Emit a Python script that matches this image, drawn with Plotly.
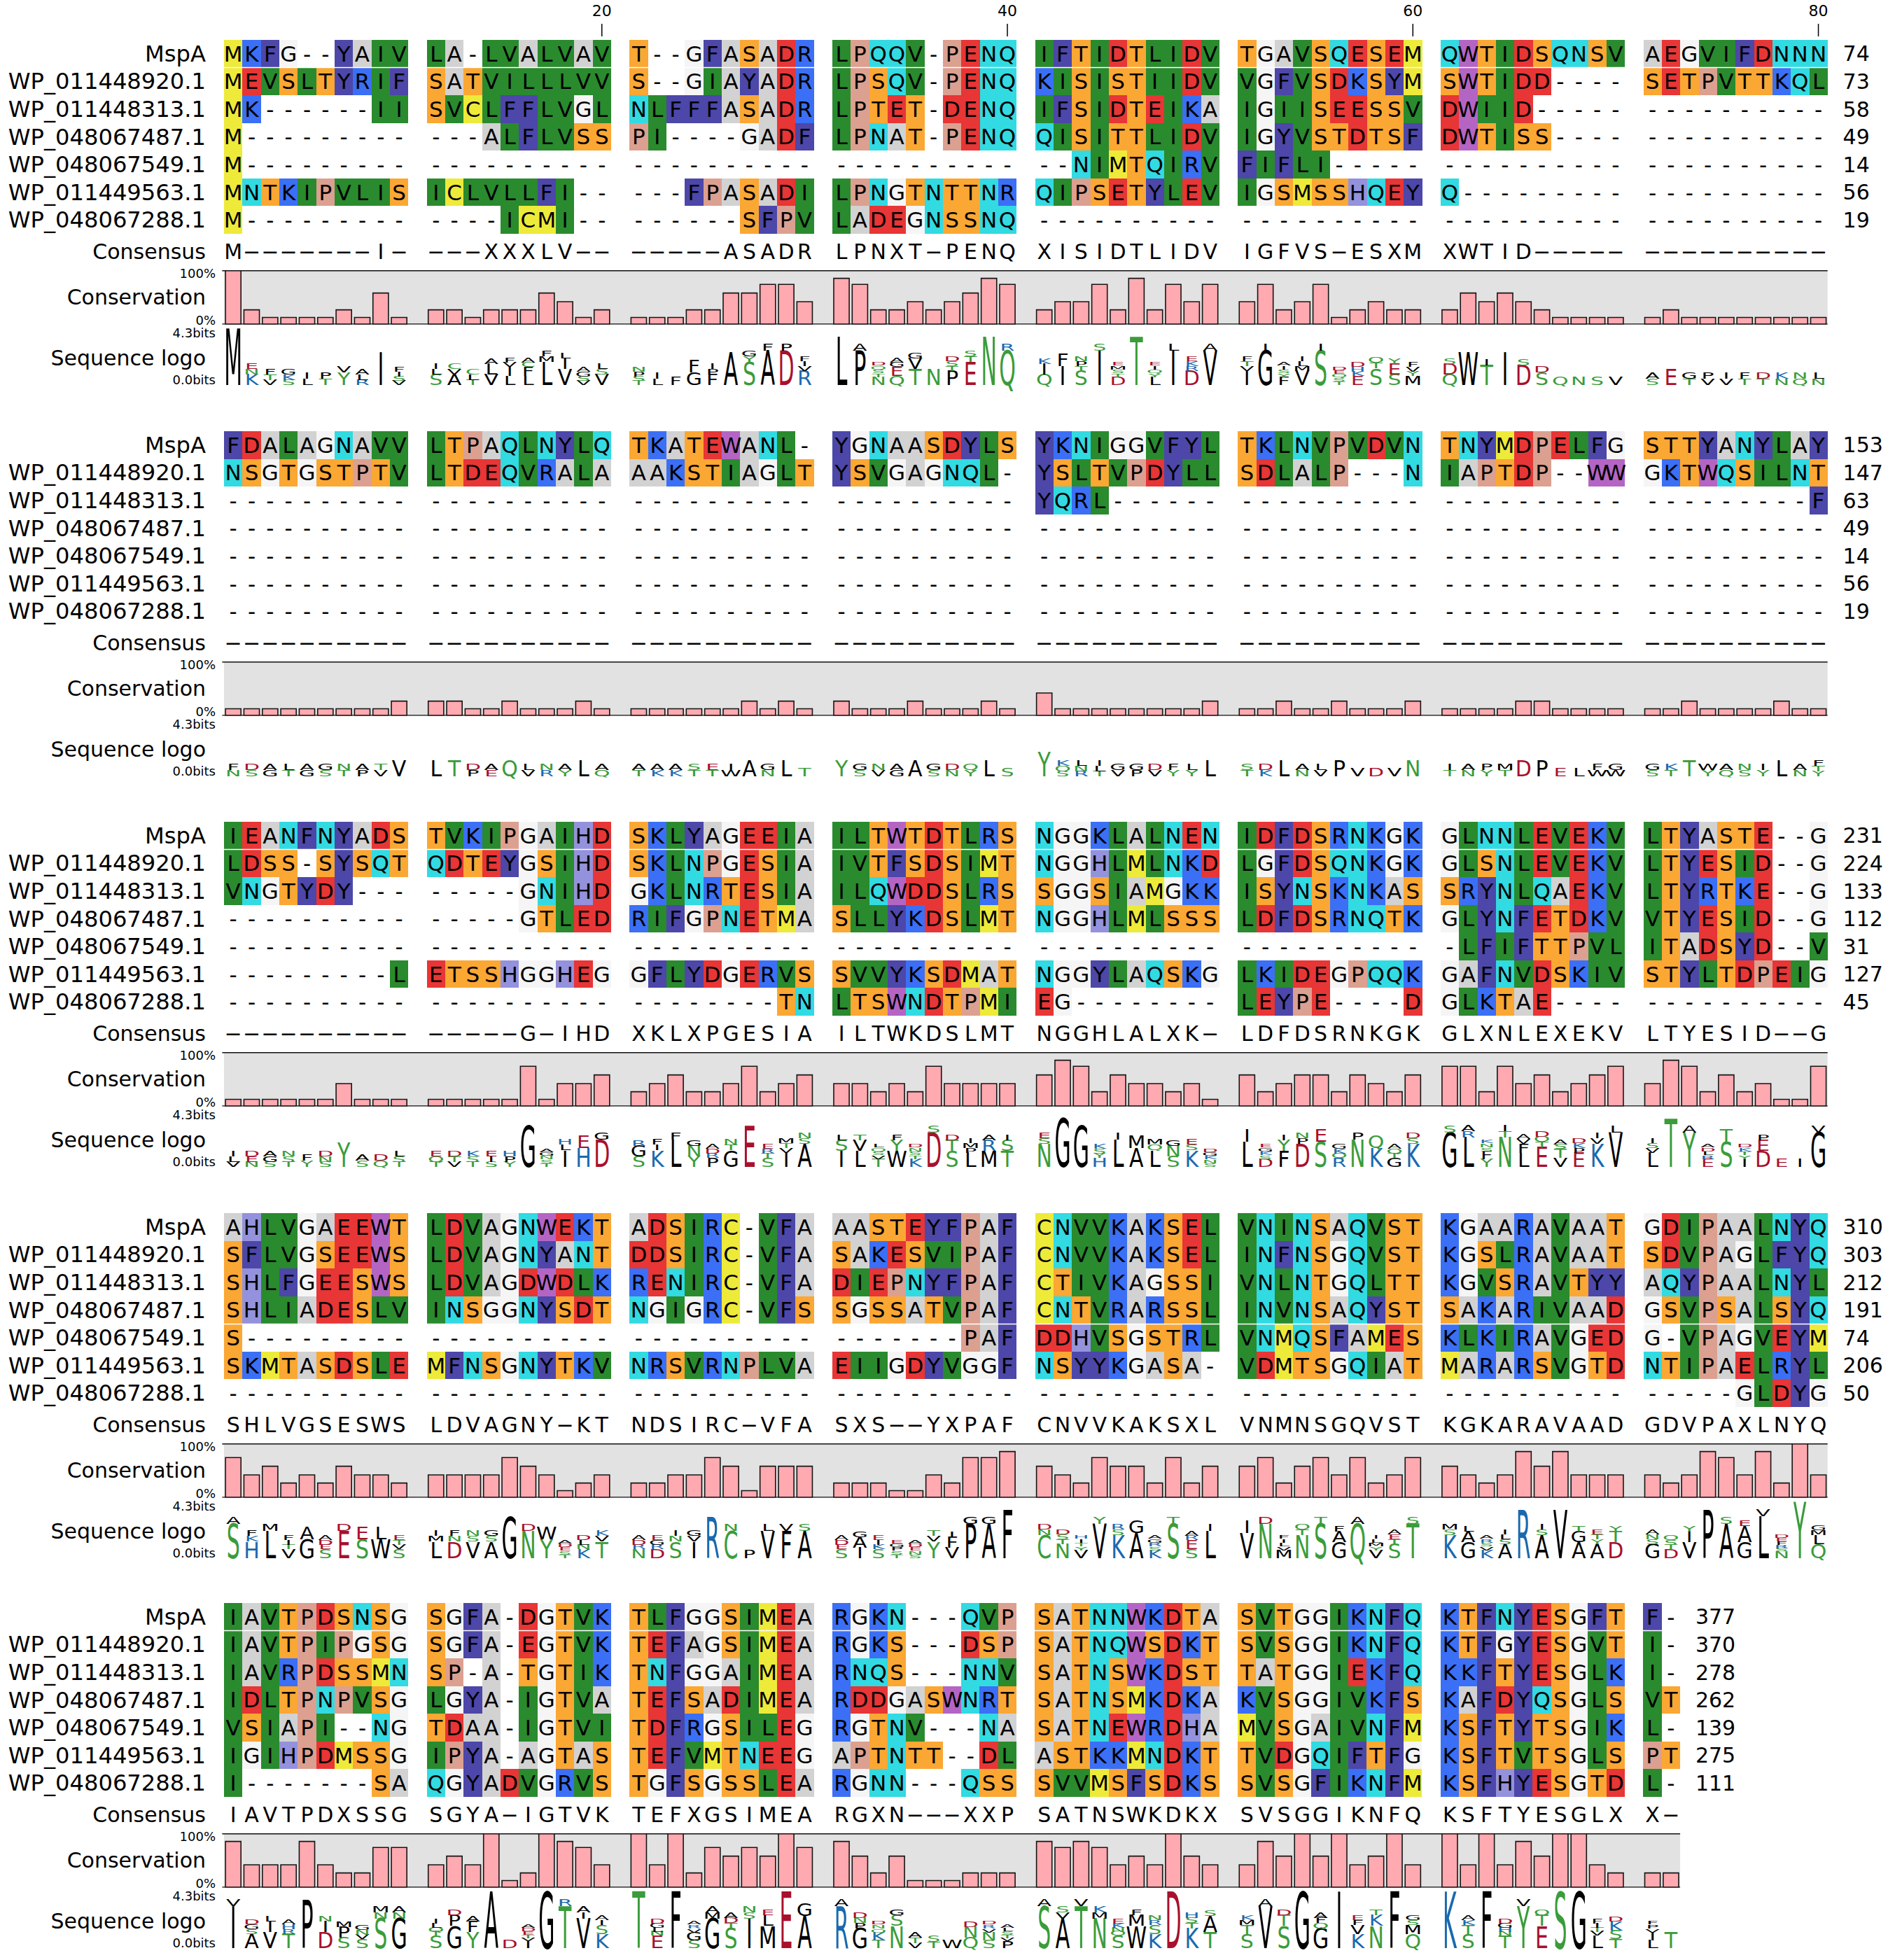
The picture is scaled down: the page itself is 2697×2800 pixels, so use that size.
'''
multiple sequence alignment figure, five wrapped blocks with consensus,
conservation bars and sequence logo
'''
import math
from collections import Counter
import plotly.graph_objects as go

names = ['MspA', 'WP_011448920.1', 'WP_011448313.1', 'WP_048067487.1',
         'WP_048067549.1', 'WP_011449563.1', 'WP_048067288.1']

#one string per sequence, a space is the spacer column between groups of ten
block1 = [
    'MKFG--YAIV LA-LVALVAV T--GFASADR LPQQV-PENQ IFTIDTLIDV TGAVSQESEM QWTIDSQNSV AEGVIFDNNN',
    'MEVSLTYRIF SATVILLLVV S--GIAYADR LPSQV-PENQ KISISTIIDV VGFVSDKSYM SWTIDD---- SETPVTTKQL',
    'MK------II SVCLFFLVGL NLFFFASADR LPTET-DENQ IFSIDTEIKA IGIISEESSV DWIID----- ----------',
    'M--------- ---ALFLVSS PI----GADF LPNAT-PENQ QISITTLIDV IGYVSTDTSF DWTISS---- ----------',
    'M--------- ---------- ---------- ---------- --NIMTQIRV FIFLI----- ---------- ----------',
    'MNTKIPVLIS ICLVLLFI-- ---FPASADI LPNGTNTTNR QIPSETYLEV IGSMSSHQEY Q--------- ----------',
    'M--------- ----ICMI-- ------SFPV LADEGNSSNQ ---------- ---------- ---------- ----------',
]
block2 = [
    'FDALAGNAVV LTPAQLNYLQ TKATEWANL- YGNAASDYLS YKNIGGVFYL TKLNVPVDVN TNYMDPELFG STTYANYLAY',
    'NSGTGSTPTV LTDEQVRALA AAKSTIAGLT YSVGAGNQL- YSLTVPDYLL SDLALP---N IAPTDP--WW GKTWQSILNT',
    '---------- ---------- ---------- ---------- YQRL------ ---------- ---------- ---------F',
    '---------- ---------- ---------- ---------- ---------- ---------- ---------- ----------',
    '---------- ---------- ---------- ---------- ---------- ---------- ---------- ----------',
    '---------- ---------- ---------- ---------- ---------- ---------- ---------- ----------',
    '---------- ---------- ---------- ---------- ---------- ---------- ---------- ----------',
]
block3 = [
    'IEANFNYADS TVKIPGAIHD SKLYAGEEIA ILTWTDTLRS NGGKLALNEN IDFDSRNKGK GLNNLEVEKV LTYASTE--G',
    'LDSS-SYSQT QDTEYGSIHD SKLNPGESIA IVTFSDSIMT NGGHLMLNKD LGFDSQNKGK GLSNLEVEKV LTYESID--G',
    'VNGTYDY--- -----GNIHD GKLNRTESIA ILQWDDSLRS SGGSIAMGKK ISYNSKNKAS SRYNLQAEKV LTYRTKE--G',
    '---------- -----GTLED RIFGPNETMA SLLYKDSLMT NGGHLMLSSS LDFDSRNQTK GLYNFETDKV VTYESID--G',
    '---------- ---------- ---------- ---------- ---------- ---------- -LFIFTTPVL ITADSYD--V',
    '---------L ETSSHGGHEG GFLYDGERVS SVVYKSDMAT NGGYLAQSKG LKIDEGPQQK GAFNVDSKIV STYLTDPEIG',
    '---------- ---------- --------TN LTSWNDTPMI EG-------- LEYPE----D GLKTAE---- ----------',
]
block4 = [
    'AHLVGAEEWT LDVAGNWEKT ADSIRC-VFA AASTEYFPAF CNVVKAKSEL VNINSAQVST KGAARAVAAT GDIPAALNYQ',
    'SFLVGSEEWS LDVAGNYANT DDSIRC-VFA SAKESVIPAF CNVVKAKSEL INFNSGQVST KGSLRAVAAT SDVPAGLFYQ',
    'SHLFGEESWS LDVAGDWDLK RENIRC-VFA DIEPNYFPAF CTIVKAGSSI VNLNTGQLTT KGVSRAVTYY AQYPAALNYL',
    'SHLIADESLV INSGGNYSDT NGIGRC-VFS SGSSATVPAF CNTVRARSSL INVNSAQYST SAKARIVAAD GSVPSALSYQ',
    'S--------- ---------- ---------- -------PAF DDHVSGSTRL VNMQSFAMES KLKIRAVGED G-VPAGVEYM',
    'SKMTASDSLE MFNSGNYTKV NRSVRNPLVA EIIGDYVGGF NSYYKGASA- VDMTSGQIAT MARARSVGTD NTIPAELRYL',
    '---------- ---------- ---------- ---------- ---------- ---------- ---------- -----GLDYG',
]
block5 = [
    'IAVTPDSNSG SGFA-DGTVK TLFGGSIMEA RGKN---QVP SATNNWKDTA SVTGGIKNFQ KTFNYESGFT F-',
    'IAVTPIPGSG SGFA-EGTVK TEFAGSIMEA RGKS---DSP SATNQWSDKT SVSGGIKNFQ KTFGYESGVT I-',
    'IAVRPDSSMN SP-A-TGTIK TNFGGAIMEA RNQS---NNV SATNSWKDST TATGGIEKFQ KKFTYESGLK I-',
    'IDLTPNPVSG LGYA-IGTVA TEFSADIMEA RDDGASWNRT SATNSMKDKA KVSGGIVKFS KAFDYQSGLS VT',
    'VSIAPI--NG TDAA-IGTVI TDFRGSILEG RGTNV---NA SATNEWRDHA MVSGAIVNFM KSFTYTSGIK L-',
    'IGIHPDMSSG IPYA-AGTAS TEFVMTNEEG APTNTT--DL ASTKKMNDKT TVDGQIFTFG KSFTVTSGLS PT',
    'I-------SA QGYADVGRVS TGFSGSSLEA RGNN---QSS SVVMSFSDKS SVSGFIKNFM KSFHYESGTD L-',
]
blocks = [block1, block2, block3, block4, block5]

consensus = [
    'M-------I- ---XXXLV-- -----ASADR LPNXT-PENQ XISIDTLIDV IGFVS-ESXM XWTID----- ----------',
    '---------- ---------- ---------- ---------- ---------- ---------- ---------- ----------',
    '---------- -----G-IHD XKLXPGESIA ILTWKDSLMT NGGHLALXK- LDFDSRNKGK GLXNLEXEKV LTYESID--G',
    'SHLVGSESWS LDVAGNY-KT NDSIRC-VFA SXS--YXPAF CNVVKAKSXL VNMNSGQVST KGKARAVAAD GDVPAXLNYQ',
    'IAVTPDXSSG SGYA-IGTVK TEFXGSIMEA RGXN---XXP SATNSWKDKX SVSGGIKNFQ KSFTYESGLX X-',
]

#residue counts printed at the end of each row
end_counts = [
    [74, 73, 58, 49, 14, 56, 19],
    [153, 147, 63, 49, 14, 56, 19],
    [231, 224, 133, 112, 31, 127, 45],
    [310, 303, 212, 191, 74, 206, 50],
    [377, 370, 278, 262, 139, 275, 111],
]

#conservation in percent
conservation1 = [100, 27, 13, 13, 13, 13, 27, 13, 58, 13,
                 27, 27, 13, 27, 27, 27, 58, 42, 13, 27,
                 13, 13, 13, 27, 27, 58, 58, 74, 74, 42,
                 85, 74, 27, 27, 42, 27, 42, 58, 85, 74,
                 27, 42, 42, 74, 27, 85, 27, 74, 42, 74,
                 42, 74, 27, 42, 74, 13, 27, 42, 27, 27,
                 27, 58, 42, 58, 42, 27, 13, 13, 13, 13,
                 13, 27, 13, 13, 13, 13, 13, 13, 13, 13]
conservation2 = [13, 13, 13, 13, 13, 13, 13, 13, 13, 27,
                 27, 27, 13, 13, 27, 13, 13, 13, 27, 13,
                 13, 13, 13, 13, 13, 13, 27, 13, 27, 13,
                 27, 13, 13, 13, 27, 13, 13, 13, 27, 13,
                 42, 13, 13, 13, 13, 13, 13, 13, 13, 27,
                 13, 13, 27, 13, 13, 27, 13, 13, 13, 27,
                 13, 13, 13, 13, 27, 27, 13, 13, 13, 13,
                 13, 13, 27, 13, 13, 13, 13, 27, 13, 13]
conservation3 = [13, 13, 13, 13, 13, 13, 42, 13, 13, 13,
                 13, 13, 13, 13, 13, 74, 13, 42, 42, 58,
                 27, 42, 58, 27, 27, 42, 74, 27, 42, 58,
                 42, 42, 27, 42, 27, 74, 42, 42, 42, 42,
                 58, 85, 74, 27, 58, 42, 42, 27, 42, 13,
                 58, 27, 42, 58, 58, 27, 58, 42, 27, 58,
                 74, 74, 27, 74, 42, 58, 27, 42, 58, 74,
                 42, 85, 74, 27, 58, 27, 42, 13, 13, 74]
conservation4 = [74, 42, 58, 27, 42, 27, 58, 42, 42, 27,
                 42, 42, 42, 42, 74, 58, 42, 13, 27, 42,
                 27, 27, 42, 42, 74, 58, 13, 58, 58, 58,
                 27, 27, 27, 13, 13, 42, 27, 74, 74, 85,
                 58, 42, 27, 74, 58, 58, 27, 74, 27, 58,
                 58, 74, 27, 58, 74, 42, 74, 27, 42, 74,
                 58, 42, 27, 42, 85, 58, 85, 42, 42, 42,
                 42, 27, 42, 85, 74, 42, 85, 27, 100, 42]
conservation5 = [85, 42, 42, 42, 85, 42, 27, 27, 74, 74,
                 42, 58, 42, 100, 13, 27, 100, 85, 74, 42,
                 100, 42, 100, 27, 74, 58, 74, 58, 100, 74,
                 85, 58, 27, 58, 13, 13, 13, 27, 27, 27,
                 85, 74, 85, 74, 42, 58, 42, 100, 58, 42,
                 42, 85, 58, 100, 58, 100, 42, 58, 100, 42,
                 100, 42, 100, 42, 85, 58, 100, 100, 42, 27,
                 27, 27]
conservations = [conservation1, conservation2, conservation3, conservation4, conservation5]

tick_labels = [[20, 40, 60, 80], [100, 120, 140, 160], [180, 200, 220, 240],
               [260, 280, 300, 320], [340, 360, 380]]

#row with a thin white break under it, None for no break
break_rows = [0, None, 0, 3, 0]

residue_colors = {
    'A': '#d2d2d2', 'C': '#eeea3a', 'D': '#e83535', 'E': '#e83535', 'F': '#4c47a8',
    'G': '#f5f5f5', 'H': '#9492dc', 'I': '#2a8a2e', 'K': '#3b6ff5', 'L': '#2a8a2e',
    'M': '#eeea3a', 'N': '#32dae2', 'P': '#dca090', 'Q': '#32dae2', 'R': '#3b6ff5',
    'S': '#fba733', 'T': '#fba733', 'V': '#2a8a2e', 'W': '#b465c4', 'Y': '#4c47a8',
}
logo_colors = {
    'D': '#a8102c', 'E': '#a8102c', 'K': '#1a69ae', 'R': '#1a69ae', 'H': '#1a69ae',
    'S': '#3a9c3a', 'T': '#3a9c3a', 'N': '#3a9c3a', 'Q': '#3a9c3a', 'Y': '#3a9c3a', 'C': '#3a9c3a',
}

WIDTH = 2697
HEIGHT = 2800
FONT = 'DejaVu Sans'
COL_PX = 26.33
ROW_PX = 39.6
LEFT_PX = 320
BLOCK_TOPS = [57, 616, 1174, 1733, 2290]
LABEL_X = (294 - LEFT_PX) / COL_PX - 0.5
SUB_X = (308 - LEFT_PX) / COL_PX - 0.5
MAX_BITS = math.log2(20)
LOGO_CAP = 0.729 #cap height of the font, as part of its size
LOGO_FONT = 30
NAME_FONT = 32.2
TRACK_FONT = 30
TEXT_DROP = 3 / ROW_PX #row text sits a little under the middle of its cell

residues = sorted(residue_colors)

def y_domain(top: float, bottom: float) -> list:
    '''
    pixel rows on the page to a plotly axis domain
    '''
    return [1 - bottom / HEIGHT, 1 - top / HEIGHT]

def residue_scale() -> list:
    '''
    step colorscale with one band for each residue
    '''
    scale = []
    for i, residue in enumerate(residues):
        scale.append([i / len(residues), residue_colors[residue]])
        scale.append([(i + 1) / len(residues), residue_colors[residue]])
    return scale

def logo_stack(column: list) -> list:
    '''
    letters of one alignment column as (letter, bits), bottom letter first
        information content is scaled by the share of non gap residues
    '''
    letters = [letter for letter in column if letter != '-']
    if not letters:
        return []
    count = Counter(letters)
    entropy = -sum(n / len(letters) * math.log2(n / len(letters)) for n in count.values())
    info = (MAX_BITS - entropy) * len(letters) / len(column)
    ordered = sorted(count.items(), key=lambda item: (-item[1], [-ord(item[0])]))
    return [(letter, n / len(letters) * info) for letter, n in ordered]

def text_trace(x, y, text, size, axis, position='middle center', color='black', name='text'):
    return go.Scatter(x=x, y=y, text=text, mode='text', yaxis=axis, xaxis='x', name=name,
                      textposition=position, cliponaxis=False, hoverinfo='skip',
                      textfont=dict(family=FONT, size=size, color=color))

figure = go.Figure()
layout_axes = {}
shapes = []
axis_number = 1

for b, rows in enumerate(blocks):
    top = BLOCK_TOPS[b]
    row_axis, cons_axis, logo_axis = [f'y{axis_number + k}' for k in range(3)]
    axis_number += 3
    #row axis: one unit is one row, it also holds the ticks and the consensus
    row_top, row_bottom = top - 55, top + 327
    layout_axes[row_axis.replace('y', 'yaxis')] = dict(
        domain=y_domain(row_top, row_bottom), visible=False, fixedrange=True,
        range=[(row_bottom - top) / ROW_PX - 0.5, (row_top - top) / ROW_PX - 0.5])
    layout_axes[cons_axis.replace('y', 'yaxis')] = dict(
        domain=y_domain(top + 329, top + 406.6), visible=False, fixedrange=True, range=[0, 100])
    layout_axes[logo_axis.replace('y', 'yaxis')] = dict(
        domain=y_domain(top + 412, top + 493), visible=False, fixedrange=True, range=[0, MAX_BITS])

    n_pos = len(rows[0])
    positions = list(range(n_pos))
    cells = []
    for row in rows:
        cells.append([residues.index(c) if c in residue_colors else None for c in row])
    figure.add_trace(go.Heatmap(x=positions, y=list(range(len(rows))), z=cells, yaxis=row_axis,
                                xaxis='x', colorscale=residue_scale(), zmin=-0.5,
                                zmax=len(residues) - 0.5, showscale=False, hoverinfo='skip'))
    if break_rows[b] is not None:
        shapes.append(dict(type='line', xref='x', yref=row_axis, x0=-0.5, x1=n_pos - 0.5,
                           y0=break_rows[b] + 0.5, y1=break_rows[b] + 0.5,
                           line=dict(color='white', width=1.5)))

    #residue letters, gaps included
    x_letters, y_letters, letters = [], [], []
    for r, row in enumerate(rows):
        for p, letter in enumerate(row):
            if letter != ' ':
                x_letters.append(p)
                y_letters.append(r + TEXT_DROP)
                letters.append(letter)
    figure.add_trace(text_trace(x_letters, y_letters, letters, 31, row_axis))

    #consensus row
    x_cons = [p for p, c in enumerate(consensus[b]) if c != ' ']
    text_cons = [consensus[b][p].replace('-', '\u2212') for p in x_cons]
    cons_y = (304 + 1.5 - ROW_PX / 2) / ROW_PX
    figure.add_trace(text_trace(x_cons, [cons_y] * len(x_cons), text_cons, 30, row_axis))

    #row names, consensus name and residue counts
    name_y = [r + TEXT_DROP for r in range(7)]
    figure.add_trace(text_trace([LABEL_X] * 8, name_y + [cons_y], names + ['Consensus'],
                                [NAME_FONT] * 7 + [TRACK_FONT], row_axis, 'middle left'))
    figure.add_trace(text_trace([n_pos + 0.33] * 7, name_y, [str(c) for c in end_counts[b]],
                                30, row_axis, 'middle right'))

    #ruler
    tick_pos = [label - 1 + (label - 1) // 10 for label in tick_labels[b]]
    for p in tick_pos:
        shapes.append(dict(type='line', xref='x', yref=row_axis, x0=p, x1=p,
                           y0=-23 / ROW_PX - 0.5, y1=-5 / ROW_PX - 0.5,
                           line=dict(color='black', width=1.5)))
    figure.add_trace(text_trace(tick_pos, [-39.5 / ROW_PX - 0.5] * len(tick_pos),
                                [str(label) for label in tick_labels[b]], 22, row_axis))

    #conservation
    values = conservations[b]
    bar_pos = [i + i // 10 for i in range(len(values))]
    shapes.append(dict(type='rect', xref='x', yref=cons_axis, x0=-0.5, x1=n_pos - 0.5, y0=0, y1=100,
                       fillcolor='#e2e2e2', line=dict(width=0), layer='below'))
    figure.add_trace(go.Bar(x=bar_pos, y=values, yaxis=cons_axis, xaxis='x', width=0.84,
                            marker=dict(color='#ffa9b0', line=dict(color='#151515', width=1.6)),
                            hoverinfo='skip'))
    for level, width in ((100, 3), (0, 2.5)):
        shapes.append(dict(type='line', xref='x', yref=cons_axis, x0=-0.6, x1=n_pos - 0.5,
                           y0=level, y1=level, line=dict(color='#111111', width=width)))
    figure.add_trace(text_trace([LABEL_X, SUB_X, SUB_X], [46, 91.5, 5],
                                ['Conservation', '100%', '0%'], [TRACK_FONT, 18, 18],
                                cons_axis, 'middle left'))

    #sequence logo, every letter is stretched to its height in post_script below
    x_logo, y_logo, text_logo, color_logo, bits_logo = [], [], [], [], []
    for p in range(n_pos):
        if rows[0][p] == ' ':
            continue
        base = 0
        for letter, bits in logo_stack([row[p] for row in rows]):
            x_logo.append(p)
            y_logo.append(base)
            text_logo.append(letter)
            color_logo.append(logo_colors.get(letter, 'black'))
            bits_logo.append(bits)
            base += bits
    logo = text_trace(x_logo, y_logo, text_logo, LOGO_FONT, logo_axis, 'top center', color_logo, 'logo')
    logo.customdata = bits_logo
    figure.add_trace(logo)
    figure.add_trace(text_trace([LABEL_X, SUB_X, SUB_X], [1.87, 3.87, 0.28],
                                ['Sequence logo', '4.3bits', '0.0bits'], [TRACK_FONT, 18, 18],
                                logo_axis, 'middle left'))

figure.update_layout(
    width=WIDTH, height=HEIGHT, margin=dict(l=0, r=0, t=0, b=0), showlegend=False,
    plot_bgcolor='white', paper_bgcolor='white', barmode='overlay', hovermode=False,
    shapes=shapes,
    xaxis=dict(domain=[0, 1], visible=False, fixedrange=True,
               range=[-LEFT_PX / COL_PX - 0.5, (WIDTH - LEFT_PX) / COL_PX - 0.5]),
    **layout_axes)

#svg text has no height of its own in plotly, so stretch the logo letters here
STRETCH = '''
document.body.style.margin = '0';
var gd = document.getElementById('{plot_id}');
gd.querySelectorAll('.scatterlayer .trace').forEach(function(group) {
    var trace = group.__data__[0].trace;
    if (trace.name !== 'logo') return;
    var ya = gd._fullLayout['yaxis' + trace.yaxis.slice(1)];
    group.querySelectorAll('.textpoint').forEach(function(point, i) {
        var text = point.querySelector('text');
        var px = ya.c2p(trace.y[i]) - ya.c2p(trace.y[i] + trace.customdata[i]);
        var x = +text.getAttribute('x'), y = +text.getAttribute('y');
        var scale = px / (CAP * SIZE);
        point.removeAttribute('transform');
        text.setAttribute('transform', 'translate(' + x + ',' + y + ') scale(1,' + scale + ') translate(' + (-x) + ',' + (-y) + ')');
    });
});
'''.replace('CAP', str(LOGO_CAP)).replace('SIZE', str(LOGO_FONT))

figure.write_html('out.html', post_script=STRETCH, config={'displayModeBar': False})
